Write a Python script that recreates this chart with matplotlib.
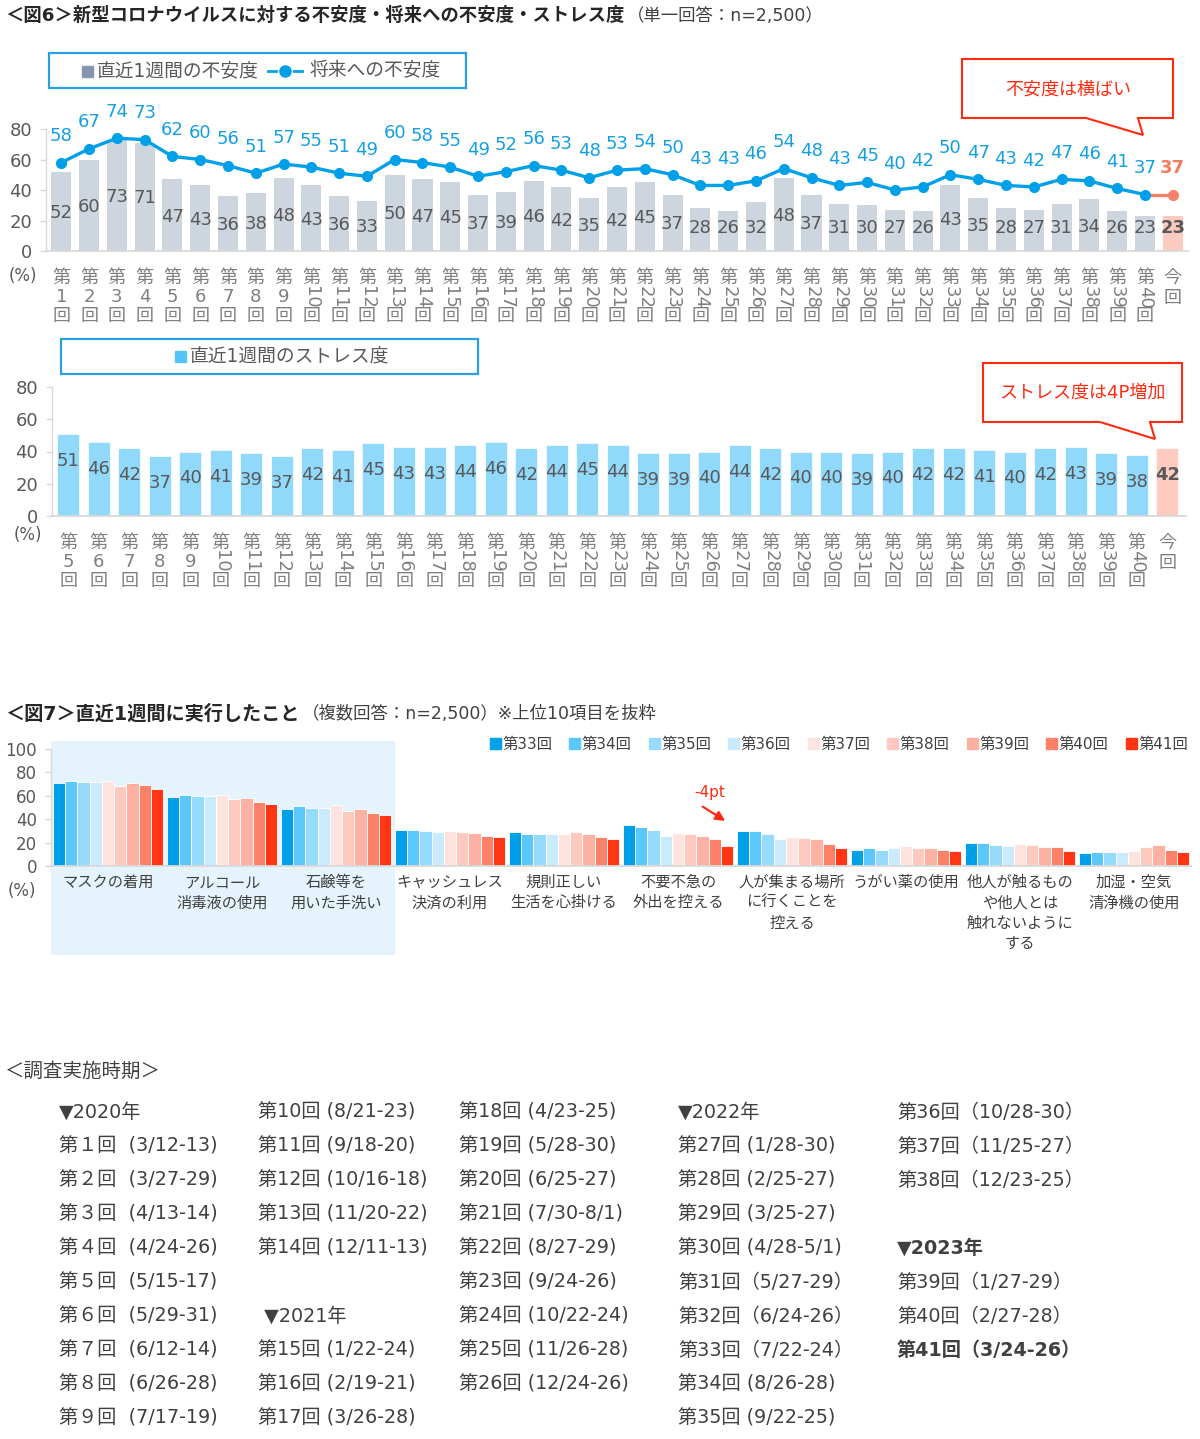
import matplotlib
matplotlib.use('Agg')
import matplotlib.pyplot as plt
import matplotlib.transforms as mtransforms
from matplotlib.patches import Rectangle, Polygon
from matplotlib.lines import Line2D

plt.rcParams['font.family'] = ['DejaVu Sans', 'Noto Sans CJK JP']

W, H = 1200, 1439

# ---------------- data ----------------
rounds_anx = [str(i) for i in range(1, 41)] + ['今回']
anx_week = [52, 60, 73, 71, 47, 43, 36, 38, 48, 43, 36, 33, 50, 47, 45, 37, 39, 46, 42, 35,
            42, 45, 37, 28, 26, 32, 48, 37, 31, 30, 27, 26, 43, 35, 28, 27, 31, 34, 26, 23,
            23]
anx_future = [58, 67, 74, 73, 62, 60, 56, 51, 57, 55, 51, 49, 60, 58, 55, 49, 52, 56, 53, 48,
              53, 54, 50, 43, 43, 46, 54, 48, 43, 45, 40, 42, 50, 47, 43, 42, 47, 46, 41, 37,
              37]

rounds_stress = [str(i) for i in range(5, 41)] + ['今回']
stress_week = [51, 46, 42, 37, 40, 41, 39, 37, 42, 41, 45, 43, 43, 44, 46, 42, 44, 45, 44,
               39, 39, 40, 44, 42, 40, 40, 39, 40, 42, 42, 41, 40, 42, 43, 39, 38,
               42]

actions = ['マスクの着用', 'アルコール\n消毒液の使用', '石鹸等を\n用いた手洗い', 'キャッシュレス\n決済の利用',
           '規則正しい\n生活を心掛ける', '不要不急の\n外出を控える', '人が集まる場所\nに行くことを\n控える',
           'うがい薬の使用', '他人が触るもの\nや他人とは\n触れないように\nする', '加湿・空気\n清浄機の使用']
series_names = ['第33回', '第34回', '第35回', '第36回', '第37回', '第38回', '第39回', '第40回', '第41回']
r33 = [71, 59, 49, 31, 29, 35, 30, 14, 20, 11]
r34 = [73, 61, 51, 31, 27, 33, 30, 15, 20, 12]
r35 = [72, 60, 50, 30, 27, 31, 27, 14, 18, 12]
r36 = [72, 60, 50, 29, 27, 26, 23, 15, 17, 12]
r37 = [73, 61, 52, 30, 27, 28, 25, 17, 19, 13]
r38 = [68, 57, 47, 29, 29, 27, 24, 15, 18, 16]
r39 = [71, 58, 49, 28, 27, 26, 23, 15, 16, 18]
r40 = [69, 55, 45, 26, 25, 23, 19, 14, 16, 14]
r41 = [66, 53, 44, 25, 23, 17, 15, 13, 13, 12]
series_vals = [r33, r34, r35, r36, r37, r38, r39, r40, r41]
series_colors = ['#00a0e9', '#5ac8fb', '#96dafc', '#c9ebfd', '#fee3df',
                 '#fdc9be', '#fcb1a2', '#fb8268', '#ff3514']

sched_col1 = ['▼2020年', '第１回  (3/12-13)', '第２回  (3/27-29)', '第３回  (4/13-14)',
              '第４回  (4/24-26)', '第５回  (5/15-17)', '第６回  (5/29-31)', '第７回  (6/12-14)',
              '第８回  (6/26-28)', '第９回  (7/17-19)']
sched_col2 = ['第10回 (8/21-23)', '第11回 (9/18-20)', '第12回 (10/16-18)', '第13回 (11/20-22)',
              '第14回 (12/11-13)', '', ' ▼2021年', '第15回 (1/22-24)', '第16回 (2/19-21)',
              '第17回 (3/26-28)']
sched_col3 = ['第18回 (4/23-25)', '第19回 (5/28-30)', '第20回 (6/25-27)', '第21回 (7/30-8/1)',
              '第22回 (8/27-29)', '第23回 (9/24-26)', '第24回 (10/22-24)', '第25回 (11/26-28)',
              '第26回 (12/24-26)', '']
sched_col4 = ['▼2022年', '第27回 (1/28-30)', '第28回 (2/25-27)', '第29回 (3/25-27)',
              '第30回 (4/28-5/1)', '第31回（5/27-29）', '第32回（6/24-26）', '第33回（7/22-24）',
              '第34回 (8/26-28)', '第35回 (9/22-25)']
sched_col5 = ['第36回（10/28-30）', '第37回（11/25-27）', '第38回（12/23-25）', '',
              '▼2023年', '第39回（1/27-29）', '第40回（2/27-28）', '第41回（3/24-26）', '', '']
sched_bold = ['▼2023年', '第41回（3/24-26）']

# ---------------- helpers ----------------
fig = plt.figure(figsize=(W / 100, H / 100), dpi=100)
renderer = fig.canvas.get_renderer()


def fy(y):
    return 1 - y / H


def px_axes(left, top, right, bottom):
    return fig.add_axes([left / W, 1 - bottom / H, (right - left) / W, (bottom - top) / H])


def ftext(x, y, s, **kw):
    kw.setdefault('va', 'center')
    return fig.text(x / W, fy(y), s, **kw)


def title_pair(y, bold, rest, size):
    t = ftext(5, y, bold, fontsize=size, fontweight='bold', color='#262626')
    right = t.get_window_extent(renderer).x1
    ftext(right + 3, y, rest, fontsize=12.5, color='#404040')


def fig_poly(points, **kw):
    pts = [(x / W, fy(y)) for x, y in points]
    fig.patches.append(Polygon(pts, closed=True, transform=fig.transFigure, **kw))


def style_axis(ax, ymax, step, tick_size):
    ax.set_ylim(0, ymax)
    ax.set_yticks(range(0, ymax + 1, step))
    ax.set_xticks([])
    for s in ['top', 'right']:
        ax.spines[s].set_visible(False)
    ax.spines['bottom'].set_color('#d9d9d9')
    ax.spines['bottom'].set_linewidth(1.3)
    ax.spines['left'].set_color('#d9d9d9')
    ax.spines['left'].set_linewidth(1.0)
    ax.tick_params(axis='y', length=4, width=1, color='#d9d9d9', pad=6,
                   labelsize=tick_size, labelcolor='#595959')
    ax.patch.set_alpha(0)


def round_labels(ax, names, base):
    tr = mtransforms.blended_transform_factory(ax.transData, fig.transFigure)
    kw = dict(transform=tr, ha='center', va='center', fontsize=13, color='#7f7f7f')
    for i, n in enumerate(names):
        if n == '今回':
            ax.text(i, fy(base + 27), '今', **kw)
            ax.text(i, fy(base + 47), '回', **kw)
            continue
        ax.text(i, fy(base + 27), '第', **kw)
        ax.text(i, fy(base + 46), n, rotation=270 if len(n) > 1 else 0, **kw)
        ax.text(i, fy(base + 65), '回', **kw)


frame_blue = '#2a9fe0'
red = '#ff2b10'

# ---------------- Fig 6 title ----------------
title_pair(16, '＜図6＞新型コロナウイルスに対する不安度・将来への不安度・ストレス度',
           '（単一回答：n=2,500）', 13.2)

# ---------------- Fig 6 upper: anxiety ----------------
ax1 = px_axes(46, 129, 1188, 251)
style_axis(ax1, 80, 20, 13)
ax1.set_xlim(-0.55, 40.55)
x1 = list(range(len(rounds_anx)))
ax1.bar(x1, anx_week, width=0.72, color=['#cdd5de'] * 40 + ['#fccbc0'], zorder=1)
ax1.plot(x1[:-1], anx_future[:-1], color='#00a0e9', lw=2.4, marker='o', ms=7, zorder=3)
ax1.plot(x1[-2:], anx_future[-2:], color='#f4826a', lw=2.4, zorder=2)
ax1.plot(x1[-1:], anx_future[-1:], 'o', color='#f4826a', ms=7, zorder=3)
for i, (b, f) in enumerate(zip(anx_week, anx_future)):
    last = i == len(x1) - 1
    ax1.text(i, max(b / 2 - 1, 15), str(b), ha='center', va='center', fontsize=13,
             color='#595959', fontweight='bold' if last else 'normal', zorder=4)
    ax1.annotate(str(f), (i, f), xytext=(0, 19), textcoords='offset points',
                 ha='center', va='center', fontsize=13,
                 color='#f47a5e' if last else '#149fe3',
                 fontweight='bold' if last else 'normal', annotation_clip=False)
round_labels(ax1, rounds_anx, 251)
ftext(23, 276, '(%)', fontsize=12, color='#595959', ha='center')

# legend box 1
fig_poly([(49, 53), (466, 53), (466, 88), (49, 88)], fill=False, edgecolor=frame_blue, lw=1.6)
fig.patches.append(Rectangle((82 / W, fy(77)), 11 / W, 11 / H, transform=fig.transFigure,
                             color='#8596ae'))
ftext(97, 71, '直近1週間の不安度', fontsize=13.5, color='#595959')
fig.lines.append(Line2D([268 / W, 276 / W], [fy(71), fy(71)], transform=fig.transFigure,
                        color='#00a0e9', lw=2))
fig.lines.append(Line2D([294 / W, 302 / W], [fy(71), fy(71)], transform=fig.transFigure,
                        color='#00a0e9', lw=2))
fig.lines.append(Line2D([285 / W], [fy(71)], transform=fig.transFigure, marker='o', ms=8,
                        color='#00a0e9', lw=0))
ftext(310, 71, '将来への不安度', fontsize=13.5, color='#595959')

# callout 1
fig_poly([(962, 59), (1173, 59), (1173, 118), (1138, 118), (1143, 135), (1086, 118), (962, 118)],
         facecolor='white', edgecolor=red, lw=1.5)
ftext(1068, 90, '不安度は横ばい', fontsize=13, color=red, ha='center')

# ---------------- Fig 6 lower: stress ----------------
ax2 = px_axes(52, 387.3, 1185.6, 515.7)
style_axis(ax2, 80, 20, 13)
ax2.set_xlim(-0.53, 36.6)
x2 = list(range(len(rounds_stress)))
ax2.bar(x2, stress_week, width=0.72, color=['#90d9fb'] * 36 + ['#fdcbc0'],
        edgecolor='white', linewidth=0.5, zorder=1)
for i, v in enumerate(stress_week):
    last = i == len(x2) - 1
    ax2.text(i, v - 16.8, str(v), ha='center', va='center', fontsize=13, color='#595959',
             fontweight='bold' if last else 'normal')
round_labels(ax2, rounds_stress, 515.7)
ftext(28, 535, '(%)', fontsize=12, color='#595959', ha='center')

fig_poly([(61, 339), (478, 339), (478, 374), (61, 374)], fill=False, edgecolor=frame_blue, lw=1.6)
fig.patches.append(Rectangle((175 / W, fy(362)), 11 / W, 11 / H, transform=fig.transFigure,
                             color='#55c5f8'))
ftext(190, 357, '直近1週間のストレス度', fontsize=13.5, color='#595959')

fig_poly([(983, 363), (1182, 363), (1182, 422), (1150, 422), (1155, 439), (1100, 422), (983, 422)],
         facecolor='white', edgecolor=red, lw=1.5)
ftext(1082, 393, 'ストレス度は4P増加', fontsize=13, color=red, ha='center')

# ---------------- Fig 7 ----------------
title_pair(714, '＜図7＞直近1週間に実行したこと', '（複数回答：n=2,500）※上位10項目を抜粋', 13.8)

ax3 = px_axes(51, 749, 1191, 866)
style_axis(ax3, 100, 20, 12)
ax3.set_xlim(-0.5, 9.5)
ppu = 117 / 100.0
ax3.add_patch(Rectangle((-0.5, -(955 - 866) / ppu), 3.014, (955 - 741) / ppu,
                        facecolor='#e5f4fc', edgecolor='none', zorder=0, clip_on=False))
bw = 0.965 / 9
for j, (vals, c) in enumerate(zip(series_vals, series_colors)):
    xs = [i + (j - 4) * bw for i in range(len(actions))]
    ax3.bar(xs, vals, width=bw, color=c, edgecolor='white', linewidth=0.6, zorder=2)
tr3 = mtransforms.blended_transform_factory(ax3.transData, fig.transFigure)
for i, lab in enumerate(actions):
    ax3.text(i, fy(875), lab, transform=tr3, ha='center', va='top', fontsize=11,
             color='#404040', linespacing=1.45)
ax3.annotate('', xy=(5.435, 37.3), xytext=(5.196, 52),
             arrowprops=dict(arrowstyle='-|>', color=red, lw=1.6, mutation_scale=14))
ax3.text(5.28, 62.4, '-4pt', ha='center', va='center', fontsize=11, color=red)
ftext(22, 891, '(%)', fontsize=12, color='#595959', ha='center')

for j, (name, c) in enumerate(zip(series_names, series_colors)):
    x0 = 489.7 + j * 79.5
    fig.patches.append(Rectangle((x0 / W, fy(749)), 11 / W, 11 / H, transform=fig.transFigure,
                                 color=c))
    ftext(x0 + 12.5, 744, name, fontsize=11, color='#404040')

# ---------------- schedule ----------------
ftext(5, 1071, '＜調査実施時期＞', fontsize=14, color='#404040')
col_x = [59, 258, 459, 678, 897]
for cx, col in zip(col_x, [sched_col1, sched_col2, sched_col3, sched_col4, sched_col5]):
    for r, s in enumerate(col):
        if not s:
            continue
        ftext(cx, 1112 + r * 34, s, fontsize=13.8, color='#404040',
              fontweight='bold' if s in sched_bold else 'normal')

fig.savefig('out.png', dpi=100)
